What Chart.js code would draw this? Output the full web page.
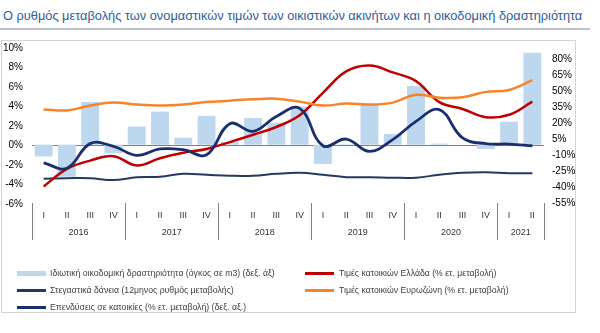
<!DOCTYPE html>
<html lang="el">
<head>
    <meta charset="UTF-8">
    <title>Τιμές ακινήτων και οικοδομική δραστηριότητα</title>
    <script src="https://cdn.jsdelivr.net/npm/chart.js"></script>
    <style>
        body {
            margin: 0;
            background: #fff;
            font-family: 'Liberation Sans', Arial, sans-serif;
        }
        .wrap {
            position: relative;
            width: 600px;
            height: 333px;
            overflow: hidden;
        }
        .title {
            position: absolute;
            left: 3px;
            top: 8px;
            font-size: 12.8px;
            color: #2e5c9c;
            white-space: nowrap;
        }
        .rule {
            position: absolute;
            left: 0;
            top: 28px;
            width: 590px;
            height: 2px;
            background: #bcc1cb;
        }
        .frame {
            position: absolute;
            left: 1px;
            top: 40px;
            width: 573px;
            height: 271px;
            border: 1px solid #d4d4d4;
        }
        canvas {
            position: absolute;
            left: 0;
            top: 0;
        }
        .legend-item {
            position: absolute;
            height: 10px;
            font-size: 8.7px;
            line-height: 10px;
            color: #404040;
            white-space: nowrap;
        }
        .legend-item span.sw {
            position: absolute;
            left: 0;
            width: 29px;
        }
        .legend-item span.tx {
            position: absolute;
        }
    </style>
</head>
<body>
<div class="wrap">
    <div class="title">Ο ρυθμός μεταβολής των ονομαστικών τιμών των οικιστικών ακινήτων και η οικοδομική δραστηριότητα</div>
    <div class="rule"></div>
    <div class="frame"></div>
    <canvas id="chart" width="600" height="333"></canvas>
    <div id="legend"></div>
</div>

<script>
    // quarters 2016 Q1 .. 2021 Q2
    const quarters = ['I', 'II', 'III', 'IV', 'I', 'II', 'III', 'IV', 'I', 'II', 'III', 'IV',
        'I', 'II', 'III', 'IV', 'I', 'II', 'III', 'IV', 'I', 'II'];
    const years = ['2016', '2017', '2018', '2019', '2020', '2021'];
    const yearSizes = [4, 4, 4, 4, 4, 2];

    const leftTicks = [-6, -4, -2, 0, 2, 4, 6, 8, 10];
    const rightTicks = [-55, -40, -25, -10, 5, 20, 35, 50, 65, 80];

    // right axis (%)
    const buildingActivity = [-11, -30, 40, -8, 17, 31, 6.5, 27, 2.5, 25, 20.5, 35.6,
        -18, 0.5, 37.5, 10, 55, 1, 0, -4, 21.5, 86];
    const investment = [-17, -22, 1, -1.5, -10, -4, -4.7, -9.4, 19.7, 12.5, 26.5, 34,
        -1, 5.3, -6.3, 4.7, 21.8, 32.8, 6.3, 1, 0.6, -1];
    // left axis (%)
    const housingLoans = [-3.4, -3.35, -3.35, -3.55, -3.25, -3.2, -2.9, -3.0, -3.1, -3.1, -2.9, -2.8,
        -3.0, -3.25, -3.25, -3.3, -3.3, -3.0, -2.8, -2.75, -2.85, -2.85];
    const greecePrices = [-4.2, -2.4, -1.55, -1.1, -2.05, -1.3, -0.75, -0.35, 0.35, 1.1, 1.9, 3.1,
        5.4, 7.6, 8.2, 7.5, 6.6, 4.45, 3.75, 2.9, 3.15, 4.5];
    const euroPrices = [3.7, 3.6, 4.1, 4.4, 4.2, 4.1, 4.2, 4.45, 4.6, 4.75, 4.8, 4.5,
        4.1, 4.3, 4.2, 4.4, 5.2, 4.9, 4.95, 5.5, 5.7, 6.7];

    const names = [
        'Ιδιωτική οικοδομική δραστηριότητα (όγκος σε m3) (δεξ. άξ)',
        'Στεγαστικά δάνεια (12μηνος ρυθμός μεταβολής)',
        'Επενδύσεις σε κατοικίες (% ετ. μεταβολή) (δεξ. αξ.)',
        'Τιμές κατοικιών Ελλάδα (% ετ. μεταβολή)',
        'Τιμές κατοικιών Ευρωζώνη (% ετ. μεταβολή)'
    ];
    const colors = ['#bdd7ee', '#26395e', '#1a2f6e', '#c00000', '#f7842a'];

    // legend, two columns like the original
    const legendPos = [[17, 268], [17, 285], [17, 302], [305, 268], [305, 285]];
    const legend = document.getElementById('legend');
    names.forEach((name, i) => {
        const item = document.createElement('div');
        item.className = 'legend-item';
        item.style.left = legendPos[i][0] + 'px';
        item.style.top = legendPos[i][1] + 'px';
        const sw = document.createElement('span');
        sw.className = 'sw';
        sw.style.background = colors[i];
        sw.style.top = i === 0 ? '3px' : '4px';
        sw.style.height = i === 0 ? '5px' : '3px';
        const tx = document.createElement('span');
        tx.className = 'tx';
        tx.style.left = (i < 3 ? 33 : 34) + 'px';
        tx.textContent = name;
        item.appendChild(sw);
        item.appendChild(tx);
        legend.appendChild(item);
    });

    // year labels and group separators under the quarter ticks
    const yearAxis = {
        id: 'yearAxis',
        afterDraw(chart) {
            const ctx = chart.ctx;
            const x = chart.scales.x;
            const area = chart.chartArea;
            const edges = [area.left];
            let idx = 0;
            yearSizes.forEach(n => {
                idx += n;
                if (idx < quarters.length) {
                    edges.push((x.getPixelForValue(idx - 1) + x.getPixelForValue(idx)) / 2);
                } else {
                    edges.push(area.right);
                }
            });
            ctx.save();
            ctx.strokeStyle = '#808080';
            ctx.lineWidth = 1;
            edges.forEach(px => {
                const p = Math.round(px) + 0.5;
                ctx.beginPath();
                ctx.moveTo(p, area.bottom - 1);
                ctx.lineTo(p, area.bottom + 36);
                ctx.stroke();
            });
            ctx.fillStyle = '#333';
            ctx.font = '9px "Liberation Sans", Arial, sans-serif';
            ctx.textAlign = 'center';
            ctx.textBaseline = 'middle';
            years.forEach((y, i) => {
                ctx.fillText(y, (edges[i] + edges[i + 1]) / 2, area.bottom + 29);
            });
            ctx.restore();
        }
    };

    const tickFont = { family: '"Liberation Sans", Arial, sans-serif', size: 10 };

    new Chart(document.getElementById('chart'), {
        type: 'bar',
        data: {
            labels: quarters,
            datasets: [
                {
                    label: names[0],
                    data: buildingActivity,
                    yAxisID: 'y1',
                    backgroundColor: colors[0],
                    barPercentage: 0.77,
                    categoryPercentage: 1,
                    order: 10
                },
                {
                    type: 'line',
                    label: names[1],
                    data: housingLoans,
                    yAxisID: 'y',
                    borderColor: colors[1],
                    borderWidth: 2,
                    pointRadius: 0,
                    tension: 0.4,
                    order: 4
                },
                {
                    type: 'line',
                    label: names[2],
                    data: investment,
                    yAxisID: 'y1',
                    borderColor: colors[2],
                    borderWidth: 2.8,
                    pointRadius: 0,
                    tension: 0.4,
                    order: 1
                },
                {
                    type: 'line',
                    label: names[3],
                    data: greecePrices,
                    yAxisID: 'y',
                    borderColor: colors[3],
                    borderWidth: 2.5,
                    pointRadius: 0,
                    tension: 0.4,
                    order: 3
                },
                {
                    type: 'line',
                    label: names[4],
                    data: euroPrices,
                    yAxisID: 'y',
                    borderColor: colors[4],
                    borderWidth: 2.5,
                    pointRadius: 0,
                    tension: 0.4,
                    order: 2
                }
            ]
        },
        options: {
            responsive: false,
            animation: false,
            devicePixelRatio: 1,
            layout: { padding: { top: 48, left: 0, right: 0, bottom: 0 } },
            plugins: {
                legend: { display: false },
                tooltip: { enabled: false }
            },
            scales: {
                x: {
                    offset: true,
                    grid: { display: false, drawTicks: false },
                    border: { display: false },
                    ticks: {
                        autoSkip: false,
                        maxRotation: 0,
                        padding: 6,
                        color: '#333',
                        font: { family: tickFont.family, size: 9 }
                    },
                    afterFit(scale) { scale.height = 129; }
                },
                y: {
                    position: 'left',
                    min: -6,
                    max: 10,
                    afterBuildTicks(scale) { scale.ticks = leftTicks.map(v => ({ value: v })); },
                    grid: {
                        drawTicks: false,
                        color: ctx => ctx.tick && ctx.tick.value === 0 ? '#808080' : 'rgba(0,0,0,0)'
                    },
                    border: { display: false },
                    ticks: {
                        padding: 9,
                        color: '#000',
                        font: tickFont,
                        callback: v => v + '%'
                    },
                    afterFit(scale) { scale.width = 32; }
                },
                y1: {
                    position: 'right',
                    min: -55.5,
                    max: 90.5,
                    afterBuildTicks(scale) { scale.ticks = rightTicks.map(v => ({ value: v })); },
                    grid: { display: false, drawTicks: false },
                    border: { display: false },
                    ticks: {
                        padding: 8,
                        color: '#000',
                        font: tickFont,
                        callback: v => v + '%'
                    },
                    afterFit(scale) { scale.width = 56; }
                }
            }
        },
        plugins: [yearAxis]
    });
</script>
</body>
</html>
